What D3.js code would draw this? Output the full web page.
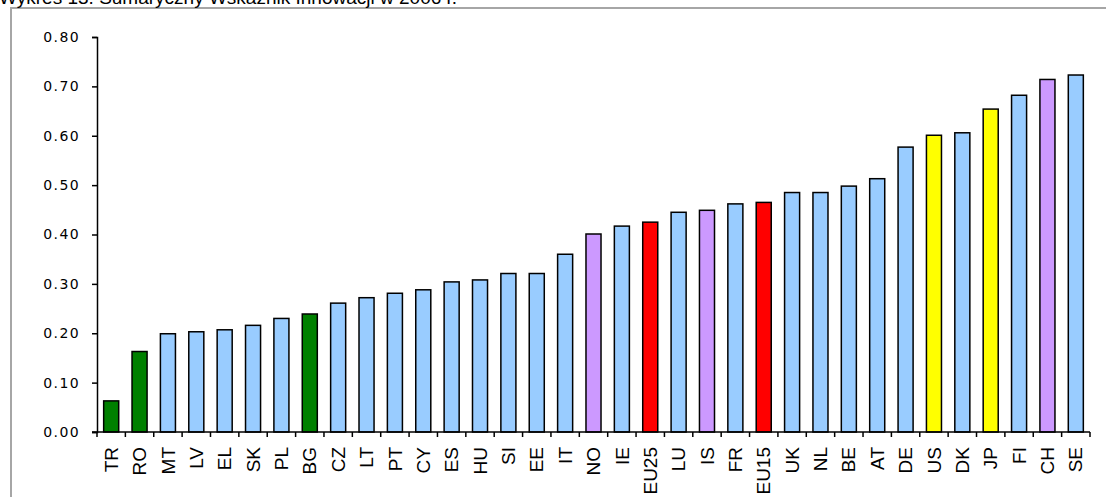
<!DOCTYPE html>
<html>
<head>
<meta charset="utf-8">
<script src="https://cdn.jsdelivr.net/npm/d3@7"></script>
<style>
  body { margin: 0; background: #fff; overflow: hidden; }
  svg { display: block; }
</style>
</head>
<body>
<script>
// Wykres: Sumaryczny Wskaźnik Innowacji
const categories = ["TR", "RO", "MT", "LV", "EL", "SK", "PL", "BG", "CZ", "LT", "PT", "CY",
  "ES", "HU", "SI", "EE", "IT", "NO", "IE", "EU25", "LU", "IS", "FR", "EU15", "UK", "NL",
  "BE", "AT", "DE", "US", "DK", "JP", "FI", "CH", "SE"]
const values = [0.063, 0.163, 0.199, 0.203, 0.207, 0.216, 0.230, 0.239, 0.261, 0.272, 0.281, 0.288,
  0.304, 0.308, 0.321, 0.321, 0.360, 0.401, 0.417, 0.425, 0.445, 0.449, 0.462, 0.465, 0.485, 0.485,
  0.498, 0.513, 0.577, 0.601, 0.606, 0.654, 0.682, 0.714, 0.723]
// grupa: kand = kraje kandydujące, ue = członkowie UE, efta = pozostałe europejskie, sr = średnie UE, poza = USA/Japonia
const groups = ["kand", "kand", "ue", "ue", "ue", "ue", "ue", "kand", "ue", "ue", "ue", "ue",
  "ue", "ue", "ue", "ue", "ue", "efta", "ue", "sr", "ue", "efta", "ue", "sr", "ue", "ue",
  "ue", "ue", "ue", "poza", "ue", "poza", "ue", "efta", "ue"]
const yTicks = [0, 0.1, 0.2, 0.3, 0.4, 0.5, 0.6, 0.7, 0.8]
const title = "Wykres 13. Sumaryczny Wskaźnik Innowacji w 2006 r."

const width = 1106
const height = 497
const plot = { left: 97, right: 1090, top: 37, bottom: 432 }

const colors = { kand: "#008000", ue: "#99ccff", efta: "#cc99ff", sr: "#ff0000", poza: "#ffff00" }

const svg = d3.select("body").append("svg")
  .attr("width", width)
  .attr("height", height)

// ramka wykresu
svg.append("rect")
  .attr("x", 11).attr("y", 8)
  .attr("width", width + 20).attr("height", height + 20)
  .attr("fill", "#fff")
  .attr("stroke", "#a6a6a6")
  .attr("stroke-width", 2)

svg.append("text")
  .attr("x", -1).attr("y", 4)
  .attr("font-family", "Liberation Sans, Arial, sans-serif")
  .attr("font-size", 19)
  .attr("fill", "#000")
  .text(title)

const x = d3.scaleBand()
  .domain(categories)
  .range([plot.left, plot.right])
  .paddingInner(0.47)
  .paddingOuter(0.235)

const y = d3.scaleLinear()
  .domain([0, 0.8])
  .range([plot.bottom, plot.top])

// słupki
svg.append("g")
  .selectAll("rect")
  .data(categories)
  .join("rect")
  .attr("x", d => x(d))
  .attr("width", x.bandwidth())
  .attr("y", (d, i) => y(values[i]))
  .attr("height", (d, i) => y(0) - y(values[i]))
  .attr("fill", (d, i) => colors[groups[i]])
  .attr("stroke", "#000")
  .attr("stroke-width", 1.5)

// oś Y
const yAxis = svg.append("g")
  .attr("transform", `translate(${plot.left},0)`)
  .call(d3.axisLeft(y).tickValues(yTicks).tickFormat(d3.format(".2f")).tickSize(5).tickPadding(12))
yAxis.select(".domain").attr("stroke", "#000").attr("stroke-width", 1.5)
yAxis.selectAll(".tick line").attr("stroke", "#000").attr("stroke-width", 1.5)
yAxis.selectAll("text")
  .attr("font-family", "DejaVu Sans, sans-serif")
  .attr("font-size", 14)
  .attr("letter-spacing", 1.4)
  .attr("fill", "#000")

// oś X
const xAxis = svg.append("g")
  .attr("transform", `translate(0,${plot.bottom})`)
  .call(d3.axisBottom(x).tickSize(0).tickSizeOuter(0))
xAxis.select(".domain").remove()
xAxis.append("line")
  .attr("x1", plot.left - 5).attr("x2", plot.right)
  .attr("stroke", "#000").attr("stroke-width", 1.5)
xAxis.selectAll(".tick text")
  .attr("transform", "rotate(-90)")
  .attr("x", -15)
  .attr("y", 0)
  .attr("dy", "0.35em")
  .attr("text-anchor", "end")
  .attr("font-family", "Liberation Sans, Arial, sans-serif")
  .attr("font-size", 19)
  .attr("fill", "#000")

// kreski podziału między kategoriami
const step = x.step()
const bounds = d3.range(categories.length + 1).map(i => x.range()[0] + i * step)
xAxis.append("g")
  .selectAll("line")
  .data(bounds)
  .join("line")
  .attr("x1", d => d).attr("x2", d => d)
  .attr("y1", 0).attr("y2", 5)
  .attr("stroke", "#000").attr("stroke-width", 1.5)
</script>
</body>
</html>
